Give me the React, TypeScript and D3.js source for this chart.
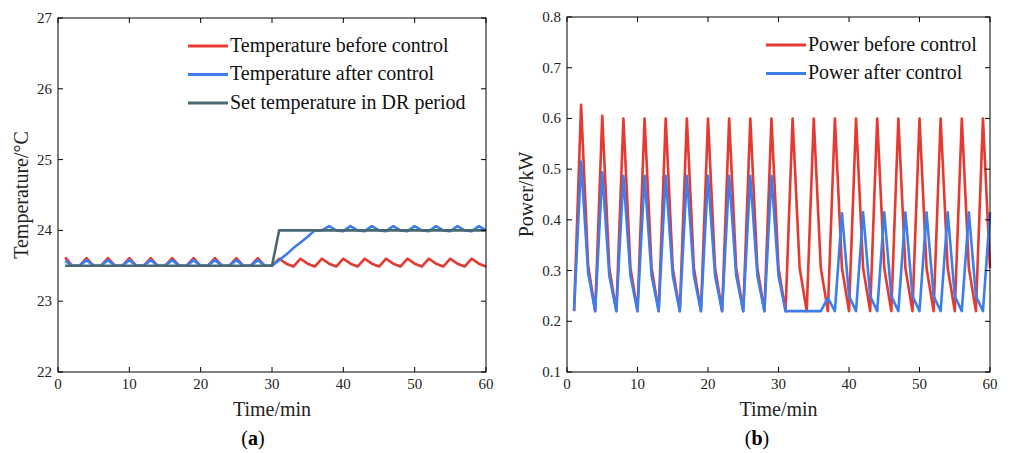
import React from "react";
import * as d3 from "d3";

// ---------- data ----------
const minutes: number[] = d3.range(1, 61);

const tempBefore: number[] = [
  23.62, 23.5, 23.5, 23.61, 23.5, 23.5, 23.61, 23.5, 23.5, 23.61,
  23.5, 23.5, 23.61, 23.5, 23.5, 23.61, 23.5, 23.5, 23.61, 23.5,
  23.5, 23.61, 23.5, 23.5, 23.61, 23.5, 23.5, 23.61, 23.5, 23.5,
  23.6, 23.53, 23.49, 23.6, 23.53, 23.49, 23.6, 23.53, 23.49, 23.6,
  23.53, 23.49, 23.6, 23.53, 23.49, 23.6, 23.53, 23.49, 23.6, 23.53,
  23.49, 23.6, 23.53, 23.49, 23.6, 23.53, 23.49, 23.6, 23.53, 23.49,
];

const tempAfter: number[] = [
  23.57, 23.5, 23.5, 23.58, 23.5, 23.5, 23.58, 23.5, 23.5, 23.58,
  23.5, 23.5, 23.58, 23.5, 23.5, 23.58, 23.5, 23.5, 23.58, 23.5,
  23.5, 23.58, 23.5, 23.5, 23.58, 23.5, 23.5, 23.58, 23.5, 23.5,
  23.58, 23.66, 23.75, 23.83, 23.91, 24.0, 24.0, 24.06, 24.0, 23.99,
  24.06, 24.0, 23.99, 24.06, 24.0, 23.99, 24.06, 24.0, 23.99, 24.06,
  24.0, 23.99, 24.06, 24.0, 23.99, 24.06, 24.0, 23.99, 24.06, 24.0,
];

const setTemp: number[] = [
  23.5, 23.5, 23.5, 23.5, 23.5, 23.5, 23.5, 23.5, 23.5, 23.5,
  23.5, 23.5, 23.5, 23.5, 23.5, 23.5, 23.5, 23.5, 23.5, 23.5,
  23.5, 23.5, 23.5, 23.5, 23.5, 23.5, 23.5, 23.5, 23.5, 23.5,
  24.0, 24.0, 24.0, 24.0, 24.0, 24.0, 24.0, 24.0, 24.0, 24.0,
  24.0, 24.0, 24.0, 24.0, 24.0, 24.0, 24.0, 24.0, 24.0, 24.0,
  24.0, 24.0, 24.0, 24.0, 24.0, 24.0, 24.0, 24.0, 24.0, 24.0,
];

const powerBefore: number[] = [
  0.22, 0.627, 0.31, 0.22, 0.605, 0.305, 0.22, 0.6, 0.305, 0.22,
  0.6, 0.305, 0.22, 0.6, 0.305, 0.22, 0.6, 0.305, 0.22, 0.6,
  0.305, 0.22, 0.6, 0.305, 0.22, 0.6, 0.305, 0.22, 0.6, 0.305,
  0.22, 0.6, 0.305, 0.22, 0.6, 0.305, 0.22, 0.6, 0.305, 0.22,
  0.6, 0.305, 0.22, 0.6, 0.305, 0.22, 0.6, 0.305, 0.22, 0.6,
  0.305, 0.22, 0.6, 0.305, 0.22, 0.6, 0.305, 0.22, 0.6, 0.305,
];

const powerAfter: number[] = [
  0.22, 0.515, 0.295, 0.22, 0.494, 0.29, 0.22, 0.487, 0.29, 0.22,
  0.487, 0.29, 0.22, 0.487, 0.29, 0.22, 0.487, 0.29, 0.22, 0.487,
  0.29, 0.22, 0.487, 0.29, 0.22, 0.487, 0.29, 0.22, 0.487, 0.29,
  0.22, 0.22, 0.22, 0.22, 0.22, 0.22, 0.246, 0.22, 0.413, 0.25,
  0.22, 0.415, 0.25, 0.22, 0.415, 0.25, 0.22, 0.415, 0.25, 0.22,
  0.415, 0.25, 0.22, 0.415, 0.25, 0.22, 0.415, 0.25, 0.22, 0.415,
];

const xTicks: number[] = [0, 10, 20, 30, 40, 50, 60];
const tempTicks: number[] = [22, 23, 24, 25, 26, 27];
const powerTicks: number[] = [0.1, 0.2, 0.3, 0.4, 0.5, 0.6, 0.7, 0.8];

const tempLegend: string[] = [
  "Temperature before control",
  "Temperature after control",
  "Set temperature in DR period",
];
const powerLegend: string[] = ["Power before control", "Power after control"];

// ---------- styles ----------
const RED = "#e6392f";
const BLUE = "#3c7eec";
const SLATE = "#4a6872";
const FONT = "'Liberation Serif', 'Times New Roman', serif";

type Series = { values: number[]; color: string };

type PanelProps = {
  left: number;
  right: number;
  top: number;
  bottom: number;
  yDomain: [number, number];
  yTicks: number[];
  yFormat: (v: number) => string;
  yTitle: string;
  yTitleX: number;
  series: Series[];
  legend: string[];
  legendX: number;
  legendY: number;
  panelLabel: string;
  panelLabelX: number;
};

function Panel(p: PanelProps) {
  const x = d3.scaleLinear().domain([0, 60]).range([p.left, p.right]);
  const y = d3.scaleLinear().domain(p.yDomain).range([p.bottom, p.top]);
  const line = d3
    .line<number>()
    .x((_, i) => x(minutes[i]))
    .y((d) => y(d));
  const tl = 5;
  const cx = (p.left + p.right) / 2;
  const cy = (p.top + p.bottom) / 2;
  return (
    <g fontFamily={FONT}>
      {p.series.map((s, i) => (
        <path
          key={i}
          d={line(s.values) || ""}
          fill="none"
          stroke={s.color}
          strokeWidth={2.6}
          strokeLinejoin="round"
        />
      ))}
      <rect
        x={p.left}
        y={p.top}
        width={p.right - p.left}
        height={p.bottom - p.top}
        fill="none"
        stroke="#000"
        strokeWidth={1}
      />
      {xTicks.map((t) => (
        <g key={"x" + t}>
          <line x1={x(t)} x2={x(t)} y1={p.bottom} y2={p.bottom - tl} stroke="#000" />
          <line x1={x(t)} x2={x(t)} y1={p.top} y2={p.top + tl} stroke="#000" />
          <text x={x(t)} y={p.bottom + 17} fontSize={15} textAnchor="middle" fill="#222">
            {t}
          </text>
        </g>
      ))}
      {p.yTicks.map((t) => (
        <g key={"y" + t}>
          <line x1={p.left} x2={p.left + tl} y1={y(t)} y2={y(t)} stroke="#000" />
          <line x1={p.right} x2={p.right - tl} y1={y(t)} y2={y(t)} stroke="#000" />
          <text x={p.left - 6} y={y(t) + 5} fontSize={15} textAnchor="end" fill="#222">
            {p.yFormat(t)}
          </text>
        </g>
      ))}
      <text x={cx} y={p.bottom + 44} fontSize={20} textAnchor="middle" fill="#222">
        Time/min
      </text>
      <text
        transform={`translate(${p.yTitleX},${cy}) rotate(-90)`}
        fontSize={20}
        textAnchor="middle"
        dominantBaseline="central"
        fill="#222"
      >
        {p.yTitle}
      </text>
      <text x={p.panelLabelX} y={p.bottom + 73} fontSize={20} textAnchor="middle" fill="#000">
        (<tspan fontWeight="bold">{p.panelLabel}</tspan>)
      </text>
      {p.legend.map((name, i) => (
        <g key={name}>
          <line
            x1={p.legendX}
            x2={p.legendX + 40}
            y1={p.legendY + i * 28.5}
            y2={p.legendY + i * 28.5}
            stroke={p.series[i].color}
            strokeWidth={2.8}
          />
          <text x={p.legendX + 42} y={p.legendY + i * 28.5 + 5.5} fontSize={20} fill="#111">
            {name}
          </text>
        </g>
      ))}
    </g>
  );
}

export default function App() {
  return (
    <svg
      width={1013}
      height={453}
      style={{ position: "absolute", left: 0, top: 0, background: "#fff" }}
    >
      <rect width={1013} height={453} fill="#fff" />
      <Panel
        left={58}
        right={486}
        top={18}
        bottom={372}
        yDomain={[22, 27]}
        yTicks={tempTicks}
        yFormat={(v) => d3.format("d")(v)}
        yTitle="Temperature/°C"
        yTitleX={21}
        series={[
          { values: tempBefore, color: RED },
          { values: tempAfter, color: BLUE },
          { values: setTemp, color: SLATE },
        ]}
        legend={tempLegend}
        legendX={188}
        legendY={46}
        panelLabel="a"
        panelLabelX={253}
      />
      <Panel
        left={567}
        right={990}
        top={17}
        bottom={372}
        yDomain={[0.1, 0.8]}
        yTicks={powerTicks}
        yFormat={(v) => d3.format(".1f")(v)}
        yTitle="Power/kW"
        yTitleX={526}
        series={[
          { values: powerBefore, color: RED },
          { values: powerAfter, color: BLUE },
        ]}
        legend={powerLegend}
        legendX={766}
        legendY={45}
        panelLabel="b"
        panelLabelX={757}
      />
    </svg>
  );
}
